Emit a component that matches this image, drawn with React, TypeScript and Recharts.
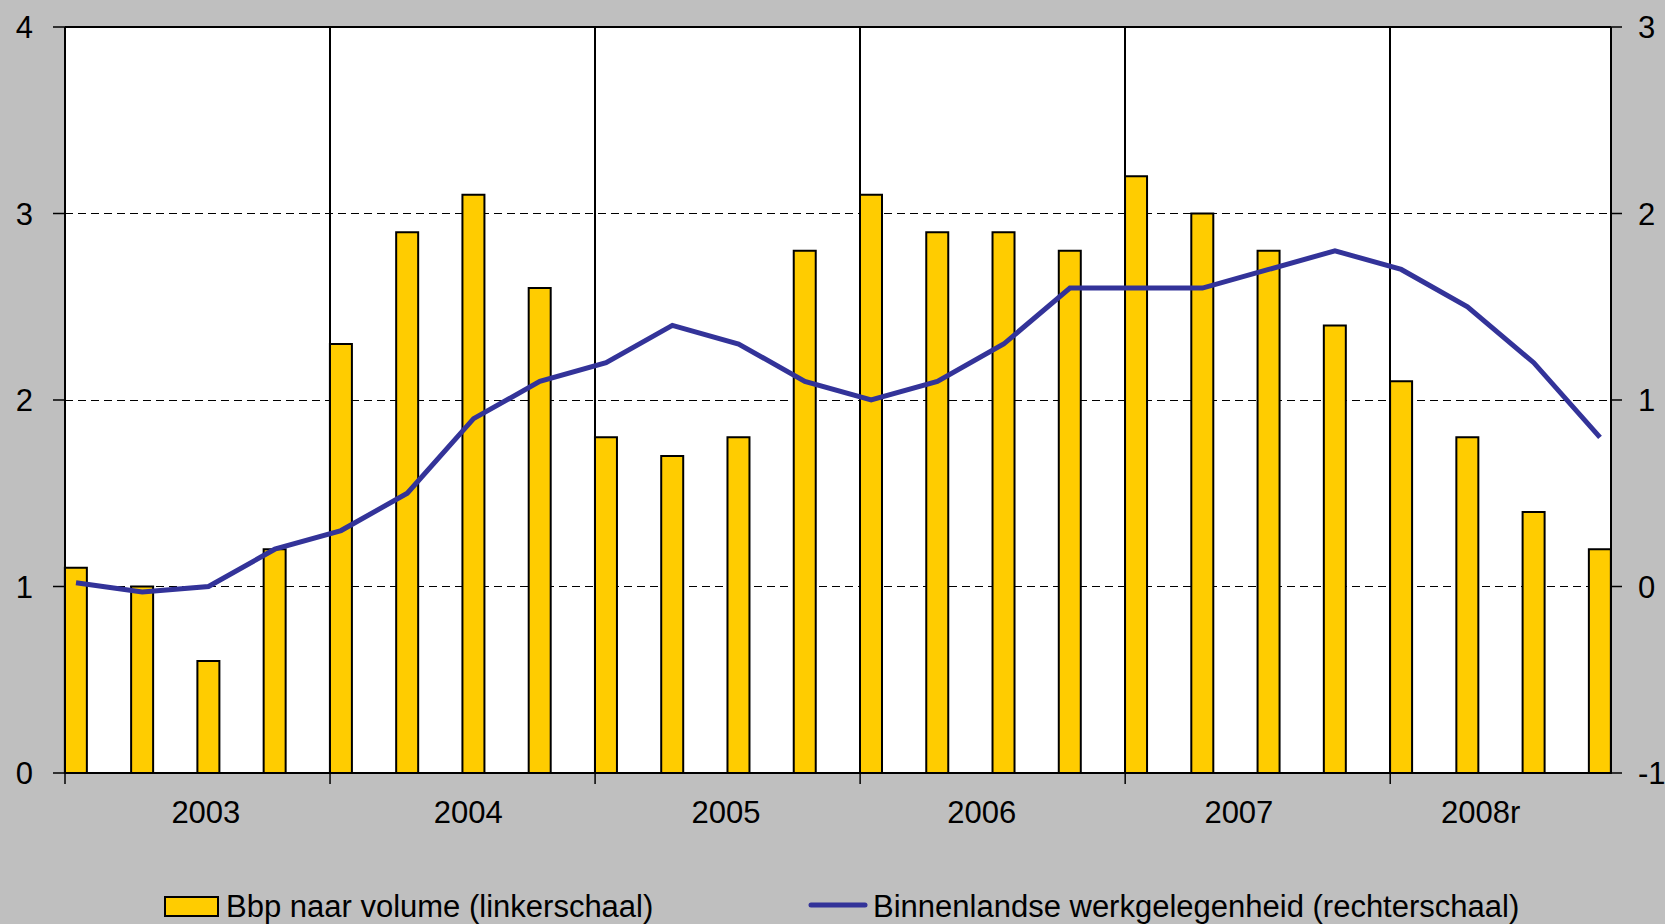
import React from "react";
import { ComposedChart, Bar, Line, XAxis, YAxis, CartesianGrid, ReferenceLine } from "recharts";

// kwartalen per jaar
const YEARS = ["2003", "2004", "2005", "2006", "2007", "2008r"];
const QUARTERS_PER_YEAR = 4;

// Bbp naar volume (linkerschaal), % mutatie
const GDP = [1.1, 1.0, 0.6, 1.2, 2.3, 2.9, 3.1, 2.6, 1.8, 1.7, 1.8, 2.8, 3.1, 2.9, 2.9, 2.8, 3.2, 3.0, 2.8, 2.4, 2.1, 1.8, 1.4, 1.2];
// Binnenlandse werkgelegenheid (rechterschaal)
const EMPLOYMENT = [0.02, -0.03, 0.0, 0.2, 0.3, 0.5, 0.9, 1.1, 1.2, 1.4, 1.3, 1.1, 1.0, 1.1, 1.3, 1.6, 1.6, 1.6, 1.7, 1.8, 1.7, 1.5, 1.2, 0.8];

const LEFT_TICKS = [0, 1, 2, 3, 4];
const RIGHT_TICKS = [-1, 0, 1, 2, 3];

// where the year labels sit, in quarter-index units (layout only)
const YEAR_LABEL_AT = [1.96, 5.92, 9.81, 13.67, 17.55, 21.2];

const W = 1665;
const H = 924;
const LEFT_W = 65;
const RIGHT_W = 54;
const TOP = 27;
const X_AXIS_H = 151;
const BAR_W = 22;
const FONT = "'Liberation Sans', Arial, sans-serif";

const data = GDP.map((gdp, i) => ({ idx: i, gdp, emp: EMPLOYMENT[i] }));

const step = (W - LEFT_W - RIGHT_W - BAR_W) / (GDP.length - 1);
const PAD = BAR_W / 2 / step;
const yearStarts = YEARS.map((_, k) => k * QUARTERS_PER_YEAR - PAD);
const xTicks = [...yearStarts, ...YEAR_LABEL_AT];

function YearTick(props: any) {
  const { x, y, index } = props;
  if (index < yearStarts.length) {
    return <line x1={x} x2={x} y1={y} y2={y + 11} stroke="#000" strokeWidth={1.5} />;
  }
  return (
    <text x={x} y={y + 50} textAnchor="middle" fontSize={31} fontFamily={FONT} fill="#000">
      {YEARS[index - yearStarts.length]}
    </text>
  );
}

export default function App() {
  return (
    <div
      style={{
        position: "absolute",
        left: 0,
        top: 0,
        width: W,
        height: H,
        background: "#bfbfbf",
        overflow: "hidden",
        fontFamily: FONT,
      }}
    >
      <ComposedChart width={W} height={H} data={data} margin={{ top: TOP, right: 0, bottom: 0, left: 0 }}>
        <CartesianGrid
          fill="#ffffff"
          vertical={false}
          stroke="#000"
          strokeDasharray="8 5"
          strokeWidth={1}
          shapeRendering="crispEdges"
        />
        <XAxis
          dataKey="idx"
          type="number"
          domain={[-PAD, GDP.length - 1 + PAD]}
          ticks={xTicks}
          interval={0}
          height={X_AXIS_H}
          tickLine={false}
          tickSize={0}
          tickMargin={0}
          tick={<YearTick />}
          axisLine={{ stroke: "#000", strokeWidth: 2 }}
        />
        <YAxis
          domain={[0, 4]}
          ticks={LEFT_TICKS}
          width={LEFT_W}
          tickSize={12}
          tickMargin={20}
          tick={{ fontSize: 31, fill: "#000", fontFamily: FONT }}
          tickLine={{ stroke: "#000", strokeWidth: 1.5 }}
          axisLine={{ stroke: "#000", strokeWidth: 2 }}
        />
        <YAxis
          yAxisId="right"
          orientation="right"
          domain={[-1, 3]}
          ticks={RIGHT_TICKS}
          width={RIGHT_W}
          tickSize={11}
          tickMargin={16}
          tick={{ fontSize: 31, fill: "#000", fontFamily: FONT, textAnchor: "start" }}
          tickLine={{ stroke: "#000", strokeWidth: 1.5 }}
          axisLine={{ stroke: "#000", strokeWidth: 2 }}
        />
        {yearStarts.slice(1).map((x) => (
          <ReferenceLine key={x} x={x} stroke="#000" strokeWidth={1.5} shapeRendering="crispEdges" />
        ))}
        <ReferenceLine y={LEFT_TICKS[LEFT_TICKS.length - 1]} stroke="#000" strokeWidth={2} />
        <Bar dataKey="gdp" barSize={BAR_W} fill="#ffcc00" stroke="#000" strokeWidth={2} isAnimationActive={false} />
        <Line
          yAxisId="right"
          dataKey="emp"
          type="linear"
          stroke="#333399"
          strokeWidth={5}
          dot={false}
          isAnimationActive={false}
        />
      </ComposedChart>
      <svg width={W} height={H} style={{ position: "absolute", left: 0, top: 0, pointerEvents: "none" }}>
        <rect x={165} y={897} width={53} height={19} fill="#ffcc00" stroke="#000" strokeWidth={2} />
        <text x={226} y={917} fontSize={31} fontFamily={FONT} fill="#000">
          Bbp naar volume (linkerschaal)
        </text>
        <line x1={811} x2={865} y1={905} y2={905} stroke="#333399" strokeWidth={5} strokeLinecap="round" />
        <text x={873} y={917} fontSize={31} fontFamily={FONT} fill="#000">
          Binnenlandse werkgelegenheid (rechterschaal)
        </text>
      </svg>
    </div>
  );
}
